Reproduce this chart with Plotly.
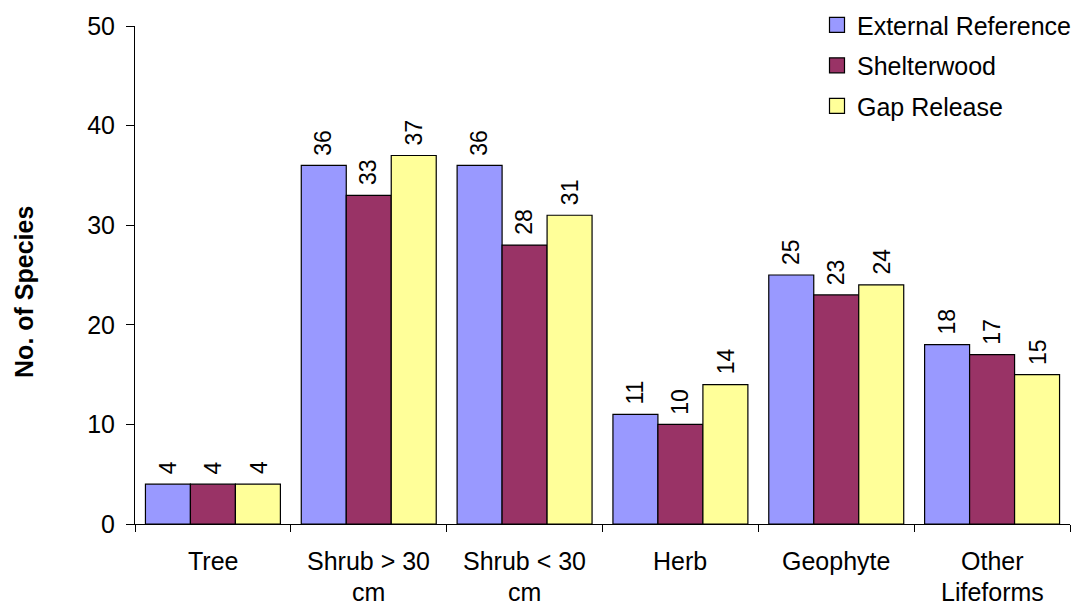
import plotly.graph_objects as go

# Life-form categories and species counts per treatment
categories = ["Tree", "Shrub > 30<br>cm", "Shrub < 30<br>cm", "Herb", "Geophyte", "Other<br>Lifeforms"]
external_reference = [4, 36, 36, 11, 25, 18]
shelterwood = [4, 33, 28, 10, 23, 17]
gap_release = [4, 37, 31, 14, 24, 15]

series_names = ["External Reference", "Shelterwood", "Gap Release"]
series_values = [external_reference, shelterwood, gap_release]
colors = ["#9999FF", "#993366", "#FFFF99"]

FONT = "Liberation Sans, Arial, sans-serif"
W, H = 1077, 608
M_L, M_R, M_T, M_B = 135, 0, 26, 84
BARGAP = 0.134
LABEL_SIZE = 25

fig = go.Figure()

for name, vals, col in zip(series_names, series_values, colors):
    fig.add_trace(go.Bar(
        x=categories, y=vals, name=name,
        marker=dict(color=col, line=dict(color="black", width=1.2)),
        showlegend=False,
    ))

# Legend entries drawn as square swatches
for i, (name, col) in enumerate(zip(series_names, colors)):
    fig.add_trace(go.Scatter(
        x=[None], y=[None], mode="markers", name=name,
        legendgroup=f"g{i}",
        marker=dict(symbol="square", size=15, color=col,
                    line=dict(color="black", width=1.2)),
    ))

# Value labels above each bar, rotated
plot_w = W - M_L - M_R
cat_w = plot_w / len(categories)
bar_w = cat_w * (1 - BARGAP) / len(series_names)
for s, vals in enumerate(series_values):
    shift = (s - (len(series_names) - 1) / 2) * bar_w
    for c, v in zip(categories, vals):
        fig.add_annotation(
            x=c, y=v, xref="x", yref="y", text=str(v), showarrow=False,
            textangle=-90, xanchor="center", yanchor="bottom",
            xshift=shift, yshift=8,
            font=dict(family=FONT, size=23, color="black"),
        )

# Category labels under the axis, one annotation per line for wider line spacing
for c in categories:
    for k, line in enumerate(c.split("<br>")):
        fig.add_annotation(
            x=c, y=0, xref="x", yref="y", text=line, showarrow=False,
            xanchor="center", yanchor="middle", yshift=-37 - 31 * k,
            font=dict(family=FONT, size=LABEL_SIZE, color="black"),
        )

# Y axis title
fig.add_annotation(
    text="<b>No. of Species</b>", xref="paper", yref="paper",
    x=0, y=0.466, xshift=-111, xanchor="center", yanchor="middle",
    textangle=-90, showarrow=False,
    font=dict(family=FONT, size=25, color="black"),
)

fig.update_layout(
    width=W, height=H,
    margin=dict(l=M_L, r=M_R, t=M_T, b=M_B),
    paper_bgcolor="white", plot_bgcolor="white",
    barmode="group", bargap=BARGAP, bargroupgap=0,
    font=dict(family=FONT, size=LABEL_SIZE, color="black"),
    legend=dict(
        x=0.7295, y=1.048, xanchor="left", yanchor="top",
        font=dict(family=FONT, size=LABEL_SIZE, color="black"),
        bgcolor="rgba(0,0,0,0)", tracegroupgap=5, itemwidth=30,
    ),
    xaxis=dict(
        type="category", showline=True, linecolor="black", linewidth=1,
        ticks="outside", tickson="boundaries", ticklen=7, tickcolor="black",
        showgrid=False, showticklabels=False,
    ),
    yaxis=dict(
        range=[0, 50], tickvals=[0, 10, 20, 30, 40, 50],
        showline=True, linecolor="black", linewidth=1,
        ticks="outside", ticklen=8, tickcolor="black",
        showgrid=False, zeroline=False, ticklabelstandoff=6,
        tickfont=dict(family=FONT, size=LABEL_SIZE, color="black"),
    ),
)

fig.write_html("out.html")
